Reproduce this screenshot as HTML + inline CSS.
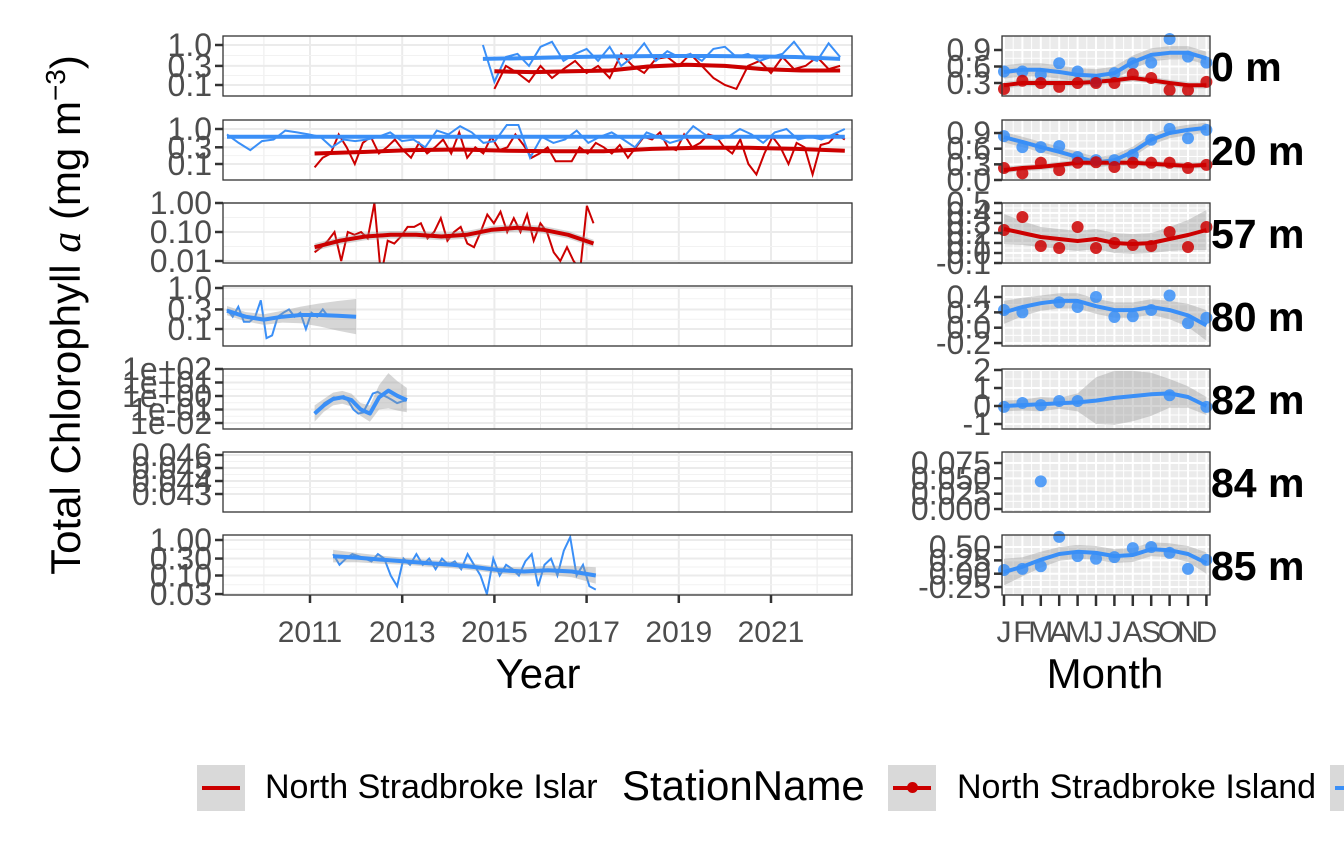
<!DOCTYPE html>
<html><head><meta charset="utf-8">
<style>
body{margin:0;background:#fff;}
svg{display:block;font-family:"Liberation Sans",sans-serif;}
</style></head>
<body>
<svg id="c" width="1344" height="865" viewBox="0 0 1344 865" xmlns="http://www.w3.org/2000/svg"></svg>
<script>
// ---------- DATA ----------
const depthLabels = ["0 m","20 m","57 m","80 m","82 m","84 m","85 m"];
const yearTicks = [2011,2013,2015,2017,2019,2021];
const monthTicks = ["J","F","M","A","M","J","J","A","S","O","N","D"];

const ts0Blue = [1.0,0.12,0.5,0.6,0.3,0.9,1.2,0.4,0.6,0.8,0.4,0.9,0.3,0.5,1.1,0.4,0.7,0.5,0.6,0.4,0.8,0.9,0.5,0.6,0.4,0.5,0.6,1.2,0.5,0.4,1.1,0.5];
const ts0BlueSpan = [2014.75,2022.5];
const ts0Red = [0.08,0.3,0.2,0.12,0.3,0.15,0.25,0.4,0.2,0.3,0.15,0.6,0.3,0.2,0.45,0.5,0.3,0.6,0.3,0.15,0.1,0.08,0.3,0.4,0.2,0.5,0.25,0.3,0.5,0.25,0.3];
const ts0RedSpan = [2015.0,2022.5];
const sm0Blue = [0.45,0.47,0.5,0.52,0.53,0.53,0.52,0.5,0.45];
const sm0Red = [0.22,0.21,0.22,0.23,0.29,0.32,0.3,0.25,0.23,0.23];

const ts20Blue = [0.7,0.4,0.25,0.45,0.5,0.9,0.8,0.7,0.6,0.3,0.5,0.45,0.5,0.6,0.8,0.45,0.5,0.3,0.9,0.7,1.2,0.8,0.4,0.45,1.3,1.3,0.15,0.6,0.4,0.5,0.9,0.4,0.6,0.8,0.5,0.3,0.8,0.6,0.4,0.5,1.2,0.7,0.5,0.6,1.0,0.7,0.4,0.8,1.0,0.5,0.6,0.5,0.7,1.0];
const ts20BlueSpan = [2009.2,2022.6];
const ts20Red = [0.08,0.15,0.2,0.7,0.3,0.1,0.4,0.6,0.2,0.3,0.5,0.25,0.15,0.4,0.2,0.3,0.5,0.2,0.8,0.15,0.3,0.2,0.6,0.25,0.3,0.7,0.35,0.15,0.2,0.3,0.12,0.12,0.12,0.3,0.2,0.4,0.3,0.2,0.35,0.15,0.3,0.6,0.5,0.8,0.3,0.25,0.7,0.3,0.4,0.7,0.6,0.3,0.2,0.5,0.1,0.05,0.2,0.6,0.3,0.1,0.4,0.3,0.05,0.35,0.4,0.7,0.5];
const ts20RedSpan = [2011.1,2022.6];
const sm20Blue = [0.6,0.6,0.6,0.6,0.6,0.6];
const sm20Red = [0.2,0.22,0.25,0.26,0.24,0.23,0.23,0.27,0.29,0.29,0.27,0.24];

const ts57Red = [0.02,0.03,0.05,0.1,0.01,0.1,0.08,0.1,0.06,1.0,0.003,0.05,0.04,0.07,0.15,0.15,0.2,0.06,0.1,0.3,0.05,0.1,0.15,0.04,0.03,0.1,0.4,0.2,0.5,0.1,0.3,0.1,0.4,0.05,0.2,0.1,0.02,0.01,0.03,0.01,0.005,0.8,0.2];
const ts57RedSpan = [2011.1,2017.15];
const sm57Red = [0.03,0.05,0.07,0.08,0.08,0.07,0.08,0.12,0.14,0.12,0.08,0.04];

const ts80Blue = [0.3,0.2,0.35,0.15,0.15,0.2,0.5,0.06,0.07,0.2,0.25,0.3,0.2,0.25,0.1,0.25,0.2,0.3,0.2];
const ts80BlueSpan = [2009.2,2011.4];
const sm80Blue = [0.28,0.2,0.17,0.2,0.22,0.22,0.21,0.2];
const sm80BlueSpan = [2009.2,2012.0];

const ts82Blue = [0.05,0.1,0.3,0.5,0.8,0.6,1.0,0.4,0.1,0.05,0.06,0.3,1.5,2,1.2,0.8,0.5,0.3,0.4,0.5];
const ts82BlueSpan = [2011.1,2013.1];
const sm82Blue = [0.05,0.2,0.6,0.8,0.5,0.1,0.05,0.8,2.5,1.0,0.5];

const ts85Blue = [0.4,0.2,0.3,0.4,0.35,0.3,0.25,0.4,0.3,0.1,0.05,0.3,0.2,0.4,0.2,0.3,0.15,0.3,0.2,0.25,0.15,0.4,0.2,0.1,0.03,0.3,0.1,0.2,0.15,0.1,0.25,0.4,0.05,0.2,0.3,0.1,0.5,1.2,0.1,0.2,0.05,0.04];
const ts85BlueSpan = [2011.5,2017.2];
const sm85Blue = [0.35,0.32,0.28,0.25,0.22,0.2,0.17,0.14,0.13,0.14,0.13,0.1];

const m0Blue = [0.51,0.51,0.45,0.66,0.51,0.33,0.48,0.66,0.67,1.1,0.78,0.67];
const m0Red = [0.19,0.34,0.30,0.23,0.30,0.30,0.30,0.46,0.39,0.17,0.17,0.32];
const ms0Blue = [0.5,0.54,0.54,0.5,0.45,0.43,0.48,0.68,0.81,0.85,0.85,0.75];
const ms0Red = [0.26,0.3,0.3,0.3,0.3,0.32,0.35,0.39,0.35,0.3,0.26,0.26];
const m20Blue = [0.84,0.63,0.63,0.65,0.44,0.38,0.38,0.48,0.77,0.98,0.8,0.96];
const m20Red = [0.23,0.13,0.33,0.19,0.33,0.34,0.25,0.33,0.33,0.33,0.23,0.29];
const ms20Blue = [0.82,0.73,0.63,0.54,0.44,0.34,0.38,0.54,0.77,0.9,0.96,1.0];
const ms20Red = [0.19,0.23,0.25,0.29,0.33,0.33,0.33,0.33,0.31,0.29,0.27,0.29];
const m57Red = [0.23,0.36,0.07,0.05,0.26,0.05,0.10,0.08,0.07,0.21,0.06,0.26];
const ms57Red = [0.24,0.2,0.16,0.14,0.12,0.14,0.1,0.09,0.1,0.14,0.18,0.23];
const m80Blue = [0.23,0.2,null,0.33,0.27,0.4,0.14,0.15,0.23,0.42,0.06,0.13];
const ms80Blue = [0.2,0.27,0.32,0.35,0.35,0.28,0.23,0.23,0.27,0.23,0.16,0.03];
const m82Blue = [-0.05,0.17,0.05,0.28,0.28,null,null,null,null,0.6,null,-0.05];
const ms82Blue = [0,0.05,0.1,0.15,0.2,0.3,0.45,0.55,0.65,0.7,0.5,0];
const ms82Band = [0.3,0.3,0.4,0.3,0.5,1.3,1.5,1.4,1.2,0.8,0.6,0.5];
const m84Blue = [null,null,0.045,null,null,null,null,null,null,null,null,null];
const m85Blue = [0.07,0.09,0.14,0.69,0.33,0.28,0.31,0.48,0.5,0.39,0.09,0.26];
const ms85Blue = [0.03,0.13,0.26,0.37,0.41,0.39,0.33,0.35,0.46,0.44,0.37,0.2];

// ---------- DRAW ----------
const svg = document.getElementById('c');
const NS = "http://www.w3.org/2000/svg";
const BLUE = "#3a8ff7", RED = "#cc0000";
function mk(tag, attrs, parent){ const e=document.createElementNS(NS,tag); for(const k in attrs) e.setAttribute(k,attrs[k]); (parent||svg).appendChild(e); return e; }

const panelTops = [36,120,203,286,369,452,535];
const PH = 60;
const LX0 = 223, LX1 = 852, RX0 = 1002, RX1 = 1210;
const xYear = y => 310 + (y-2011)*46.1;
const xMonth = m => 1004 + m*18.4;
function spanT(span,n,i){ return span[0] + i*(span[1]-span[0])/(n-1); }

const leftScales = [
  v => 45 - 40*Math.log10(v),
  v => 129 - 35*Math.log10(v),
  v => 203 - 29*Math.log10(v),
  v => 288 - 41*Math.log10(v),
  v => 396 - 13.5*Math.log10(v),
  v => 455 + (0.046-v)*13000,
  v => 540 - 35.5*Math.log10(v)
];
const leftTickVals = [[1,0.3,0.1],[1,0.3,0.1],[1,0.1,0.01],[1,0.3,0.1],[100,10,1,0.1,0.01],[0.046,0.045,0.044,0.043],[1,0.3,0.1,0.03]];
const leftTickLbl = [["1.0","0.3","0.1"],["1.0","0.3","0.1"],["1.00","0.10","0.01"],["1.0","0.3","0.1"],["1e+02","1e+01","1e+00","1e-01","1e-02"],["0.046","0.045","0.044","0.043"],["1.00","0.30","0.10","0.03"]];
const rightScales = [
  v => 99.5 - 55*v,
  v => 180 - 52.2*v,
  v => 253 - 100*v,
  v => 327.7 - 76.7*v,
  v => 406 - 18*v,
  v => 509 - 613*v,
  v => 573.7 - 53.3*v
];
const rightTickVals = [[0.9,0.6,0.3],[0.9,0.6,0.3,0.0],[0.5,0.4,0.3,0.2,0.1,0.0,-0.1],[0.4,0.2,0.0,-0.2],[2,1,0,-1],[0.075,0.05,0.025,0],[0.5,0.25,0,-0.25]];
const rightTickLbl = [["0.9","0.6","0.3"],["0.9","0.6","0.3","0.0"],["0.5","0.4","0.3","0.2","0.1","0.0","-0.1"],["0.4","0.2","0.0","-0.2"],["2","1","0","-1"],["0.075","0.050","0.025","0.000"],["0.50","0.25","0.00","-0.25"]];

const defs = mk('defs',{});
panelTops.forEach((t,i)=>{
  const cl=mk('clipPath',{id:'cl'+i},defs); mk('rect',{x:LX0,y:t,width:LX1-LX0,height:PH},cl);
  const cr=mk('clipPath',{id:'cr'+i},defs); mk('rect',{x:RX0,y:t,width:RX1-RX0,height:PH},cr);
});

function pathD(xs,ys){ let d=""; let pen=false; for(let i=0;i<xs.length;i++){ if(ys[i]==null||isNaN(ys[i])){pen=false;continue;} d+=(pen?"L":"M")+xs[i].toFixed(1)+","+ys[i].toFixed(1); pen=true;} return d; }

panelTops.forEach((t,i)=>{
  const gl = mk('g',{});
  
  
  mk('rect',{x:LX0,y:t,width:LX1-LX0,height:PH,fill:'#fff'},gl);
  for(let yr=2009;yr<=2022;yr++){ const x=xYear(yr); if(x>LX0&&x<LX1) mk('line',{x1:x,x2:x,y1:t,y2:t+PH,stroke:'#ebebeb','stroke-width':yr%2?2:1},gl); }
  const tv=leftTickVals[i];
  tv.forEach((v,k)=>{ const y=leftScales[i](v); mk('line',{x1:LX0,x2:LX1,y1:y,y2:y,stroke:'#ebebeb','stroke-width':2},gl);
    if(k<tv.length-1){ const y2=(y+leftScales[i](tv[k+1]))/2; mk('line',{x1:LX0,x2:LX1,y1:y2,y2:y2,stroke:'#f2f2f2','stroke-width':1},gl);} });
  const gr = mk('g',{});
  
  
  mk('rect',{x:RX0,y:t,width:RX1-RX0,height:PH,fill:'#ebebeb'},gr);
  for(let m=0;m<12;m++){ mk('line',{x1:xMonth(m),x2:xMonth(m),y1:t,y2:t+PH,stroke:'#fff','stroke-width':2},gr); mk('line',{x1:xMonth(m)+9.2,x2:xMonth(m)+9.2,y1:t,y2:t+PH,stroke:'#fff','stroke-width':1},gr); }
  const rv=rightTickVals[i];
  rv.forEach((v,k)=>{ const y=rightScales[i](v); mk('line',{x1:RX0,x2:RX1,y1:y,y2:y,stroke:'#fff','stroke-width':2},gr);
    if(k<rv.length-1){ const y2=(y+rightScales[i](rv[k+1]))/2; mk('line',{x1:RX0,x2:RX1,y1:y2,y2:y2,stroke:'#fff','stroke-width':1},gr);} });
});

function leftSeries(pi, vals, span, col, name){
  const xs=vals.map((v,k)=>xYear(spanT(span,vals.length,k)));
  const ys=vals.map(v=>leftScales[pi](v));
  const p=mk('path',{d:pathD(xs,ys),fill:'none',stroke:col,'stroke-width':2,'clip-path':'url(#cl'+pi+')'});
  
  
}
function leftSmooth(pi, vals, span, col, band, name){
  const xs=vals.map((v,k)=>xYear(spanT(span,vals.length,k)));
  const up=vals.map((v,k)=>leftScales[pi](v*band[k]));
  const lo=vals.map((v,k)=>leftScales[pi](v/band[k]));
  let d="M"+xs.map((x,k)=>x.toFixed(1)+","+up[k].toFixed(1)).join("L")+"L"+xs.slice().reverse().map((x,k)=>x.toFixed(1)+","+lo[lo.length-1-k].toFixed(1)).join("L")+"Z";
  const r=mk('path',{d:d,fill:'#999','fill-opacity':0.4,'clip-path':'url(#cl'+pi+')'});
  
  
  const ys=vals.map(v=>leftScales[pi](v));
  const p=mk('path',{d:pathD(xs,ys),fill:'none',stroke:col,'stroke-width':4,'stroke-linejoin':'round','clip-path':'url(#cl'+pi+')'});
  
  
}
const cst=(n,v)=>Array(n).fill(v);
leftSeries(0,ts0Red,ts0RedSpan,RED,'raw-0m-red');
leftSeries(0,ts0Blue,ts0BlueSpan,BLUE,'raw-0m-blue');
leftSmooth(0,sm0Red,ts0RedSpan,RED,cst(sm0Red.length,1.12),'smooth-0m-red');
leftSmooth(0,sm0Blue,ts0BlueSpan,BLUE,cst(sm0Blue.length,1.1),'smooth-0m-blue');
leftSeries(1,ts20Red,ts20RedSpan,RED,'raw-20m-red');
leftSeries(1,ts20Blue,ts20BlueSpan,BLUE,'raw-20m-blue');
leftSmooth(1,sm20Red,ts20RedSpan,RED,cst(sm20Red.length,1.12),'smooth-20m-red');
leftSmooth(1,sm20Blue,ts20BlueSpan,BLUE,cst(sm20Blue.length,1.08),'smooth-20m-blue');
leftSeries(2,ts57Red,ts57RedSpan,RED,'raw-57m-red');
leftSmooth(2,sm57Red,ts57RedSpan,RED,cst(sm57Red.length,1.35),'smooth-57m-red');
leftSeries(3,ts80Blue,ts80BlueSpan,BLUE,'raw-80m-blue');
leftSmooth(3,sm80Blue,sm80BlueSpan,BLUE,[1.3,1.3,1.35,1.4,1.6,1.9,2.3,2.7],'smooth-80m-blue');
leftSeries(4,ts82Blue,ts82BlueSpan,BLUE,'raw-82m-blue');
leftSmooth(4,sm82Blue,ts82BlueSpan,BLUE,[4,3,3,3,3,3,4,8,20,12,8],'smooth-82m-blue');
leftSeries(6,ts85Blue,ts85BlueSpan,BLUE,'raw-85m-blue');
leftSmooth(6,sm85Blue,ts85BlueSpan,BLUE,[1.5,1.35,1.3,1.25,1.25,1.25,1.25,1.25,1.3,1.35,1.45,1.7],'smooth-85m-blue');

function rightSmooth(pi, vals, col, band, name){
  const xs=vals.map((v,k)=>xMonth(k));
  const up=vals.map((v,k)=>rightScales[pi](v+band[k]));
  const lo=vals.map((v,k)=>rightScales[pi](v-band[k]));
  let d="M"+xs.map((x,k)=>x+","+up[k].toFixed(1)).join("L")+"L"+xs.slice().reverse().map((x,k)=>x+","+lo[lo.length-1-k].toFixed(1)).join("L")+"Z";
  const r=mk('path',{d:d,fill:'#999','fill-opacity':0.4,'clip-path':'url(#cr'+pi+')'});
  
  
  const p=mk('path',{d:pathD(xs,vals.map(v=>rightScales[pi](v))),fill:'none',stroke:col,'stroke-width':4,'stroke-linejoin':'round','clip-path':'url(#cr'+pi+')'});
  
  
}
function rightPoints(pi, vals, col, name){
  vals.forEach((v,k)=>{ if(v==null) return;
    const c=mk('circle',{cx:xMonth(k),cy:rightScales[pi](v),r:6,fill:col,'fill-opacity':0.85});
    
    
  });
}
rightSmooth(0,ms0Blue,BLUE,cst(12,0.12),'msmooth-0m-blue');
rightSmooth(0,ms0Red,RED,cst(12,0.06),'msmooth-0m-red');
rightPoints(0,m0Blue,BLUE,'mpoint-0m-blue'); rightPoints(0,m0Red,RED,'mpoint-0m-red');
rightSmooth(1,ms20Blue,BLUE,cst(12,0.1),'msmooth-20m-blue');
rightSmooth(1,ms20Red,RED,cst(12,0.06),'msmooth-20m-red');
rightPoints(1,m20Blue,BLUE,'mpoint-20m-blue'); rightPoints(1,m20Red,RED,'mpoint-20m-red');
rightSmooth(2,ms57Red,RED,[0.15,0.12,0.1,0.1,0.1,0.1,0.1,0.1,0.1,0.12,0.15,0.2],'msmooth-57m-red');
rightPoints(2,m57Red,RED,'mpoint-57m-red');
rightSmooth(3,ms80Blue,BLUE,[0.15,0.12,0.1,0.1,0.1,0.1,0.1,0.1,0.1,0.12,0.15,0.2],'msmooth-80m-blue');
rightPoints(3,m80Blue,BLUE,'mpoint-80m-blue');
rightSmooth(4,ms82Blue,BLUE,ms82Band,'msmooth-82m-blue');
rightPoints(4,m82Blue,BLUE,'mpoint-82m-blue');
rightPoints(5,m84Blue,BLUE,'mpoint-84m-blue');
rightSmooth(6,ms85Blue,BLUE,[0.25,0.18,0.15,0.13,0.13,0.13,0.13,0.13,0.13,0.13,0.15,0.2],'msmooth-85m-blue');
rightPoints(6,m85Blue,BLUE,'mpoint-85m-blue');

const TF = 32;
panelTops.forEach((t,i)=>{
  mk('rect',{x:LX0,y:t,width:LX1-LX0,height:PH,fill:'none',stroke:'#333','stroke-width':1.3});
  mk('rect',{x:RX0,y:t,width:RX1-RX0,height:PH,fill:'none',stroke:'#333','stroke-width':1.3});
  leftTickVals[i].forEach((v,k)=>{ const y=leftScales[i](v);
    mk('line',{x1:LX0-8,x2:LX0,y1:y,y2:y,stroke:'#333','stroke-width':2.5});
    const tx=mk('text',{x:LX0-11,y:y+11,'text-anchor':'end','font-size':TF,fill:'#4d4d4d'}); tx.textContent=leftTickLbl[i][k];
      });
  rightTickVals[i].forEach((v,k)=>{ const y=rightScales[i](v);
    mk('line',{x1:RX0-8,x2:RX0,y1:y,y2:y,stroke:'#333','stroke-width':2.5});
    const tx=mk('text',{x:RX0-11,y:y+11,'text-anchor':'end','font-size':TF,fill:'#4d4d4d'}); tx.textContent=rightTickLbl[i][k];
      });
  const s=mk('text',{x:1211,y:t+PH/2+15,'font-size':41,'font-weight':'bold',fill:'#000'}); s.textContent=depthLabels[i];
   
});
yearTicks.forEach(yr=>{ const x=xYear(yr);
  mk('line',{x1:x,x2:x,y1:595,y2:603,stroke:'#333','stroke-width':2.5});
  const tx=mk('text',{x:x,y:642,'text-anchor':'middle','font-size':30,fill:'#4d4d4d'}); tx.textContent=yr;
    });
monthTicks.forEach((m,k)=>{ const x=xMonth(k);
  mk('line',{x1:x,x2:x,y1:595,y2:606,stroke:'#333','stroke-width':2.5});
  const tx=mk('text',{x:x,y:642,'text-anchor':'middle','font-size':30,fill:'#4d4d4d'}); tx.textContent=m;
    });
</script>
<div style="position:absolute;left:0;top:0;width:1344px;height:865px;pointer-events:none;font-family:'Liberation Sans',sans-serif;">
  <div style="position:absolute;left:65px;top:315px;transform:translate(-50%,-50%) rotate(-90deg);white-space:nowrap;font-size:42px;line-height:1;color:#000;">Total Chlorophyll <i style="font-family:'Liberation Serif',serif;">a</i> (mg m<sup style="font-size:28px;">−3</sup>)</div>
  <div style="position:absolute;left:538px;top:650px;transform:translateX(-50%);font-size:42px;">Year</div>
  <div style="position:absolute;left:1105px;top:650px;transform:translateX(-50%);font-size:42px;">Month</div>
  <div style="position:absolute;left:0;top:765px;width:1344px;height:46px;overflow:hidden;">
    <div style="position:absolute;left:197px;top:0;width:48px;height:46px;background:#d9d9d9;"><div style="position:absolute;left:5px;top:21px;width:38px;height:4px;background:#cc0000;"></div></div>
    <div style="position:absolute;left:265px;top:3px;font-size:34px;white-space:nowrap;width:335px;overflow:hidden;">North Stradbroke Islar</div>
    <div style="position:absolute;left:622px;top:-3px;font-size:42px;white-space:nowrap;">StationName</div>
    <div style="position:absolute;left:888px;top:0;width:48px;height:46px;background:#d9d9d9;"><div style="position:absolute;left:5px;top:21px;width:38px;height:4px;background:#cc0000;"></div><div style="position:absolute;left:19px;top:17px;width:11px;height:11px;border-radius:50%;background:#cc0000;"></div></div>
    <div style="position:absolute;left:957px;top:3px;font-size:34px;white-space:nowrap;">North Stradbroke Island</div>
    <div style="position:absolute;left:1330px;top:0;width:48px;height:46px;background:#d9d9d9;"><div style="position:absolute;left:5px;top:21px;width:38px;height:4px;background:#3a8ff7;"></div></div>
  </div>
</div>
</body></html>
